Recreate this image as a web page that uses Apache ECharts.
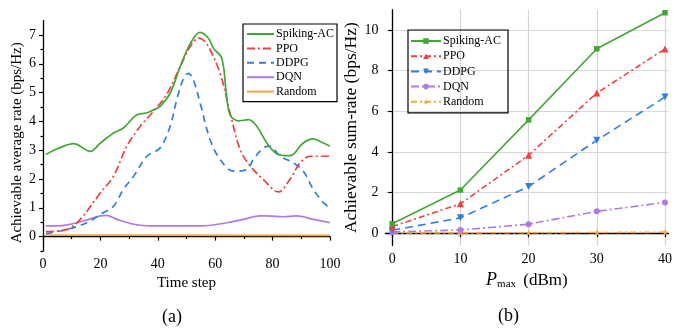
<!DOCTYPE html>
<html>
<head>
<meta charset="utf-8">
<script src="https://cdn.jsdelivr.net/npm/echarts@6/dist/echarts.min.js"></script>
<style>
  html, body { margin: 0; padding: 0; background: #fff; }
  #chart { width: 675px; height: 328px; }
</style>
</head>
<body>
<div id="chart"></div>
<script>
// (a) average rate over time steps
const spikingX = [1, 5, 10.7, 16.5, 20, 24.6, 28, 32.7, 36, 38.5, 40.8, 44.3, 47.8, 51.3, 54.7, 57.7, 59.4, 62.3, 64, 65.2, 68, 71.6, 74.5, 78, 81.4, 86, 90.7, 94.2, 97.7, 100]
const spikingY = [2.85, 3.05, 3.23, 2.96, 3.25, 3.6, 3.77, 4.23, 4.29, 4.4, 4.52, 4.98, 5.9, 6.7, 7.09, 6.88, 6.54, 6.19, 4.86, 4.23, 4.02, 4.06, 3.83, 3.25, 2.88, 2.81, 3.25, 3.39, 3.25, 3.14]
const ppoX = [1, 8.4, 13, 20, 24.6, 29.2, 33.9, 38.5, 43, 47.8, 51.3, 54.2, 57, 61.7, 65.2, 68.7, 72.2, 76.8, 82, 86, 89.6, 93, 100]
const ppoY = [0.17, 0.25, 0.6, 1.52, 2.1, 3.14, 3.83, 4.35, 4.92, 5.9, 6.6, 6.89, 6.7, 5.67, 4.29, 3.02, 2.45, 1.98, 1.55, 1.98, 2.56, 2.79, 2.79]
const ddpgX = [1, 8.4, 15.3, 20, 24.6, 28, 31.6, 36.2, 40.8, 44.3, 46.6, 49, 50.7, 52.4, 54.75, 58.2, 61.7, 66.4, 71, 73.3, 76.8, 79.1, 82.6, 87.2, 90.7, 94.2, 97.7, 100]
const ddpgY = [0.1, 0.25, 0.48, 0.77, 1.06, 1.64, 2.1, 2.79, 3.08, 3.83, 4.75, 5.5, 5.67, 5.44, 4.64, 3.37, 2.68, 2.27, 2.33, 2.68, 3.08, 3.14, 2.79, 2.56, 2.27, 1.64, 1.18, 1.0]
const dqnX = [1, 8, 14, 20, 22, 25.8, 31.6, 37.4, 54.8, 64, 69.8, 75.6, 78, 83.7, 88.4, 94.2, 100]
const dqnY = [0.37, 0.4, 0.54, 0.72, 0.74, 0.6, 0.43, 0.37, 0.37, 0.48, 0.6, 0.72, 0.72, 0.69, 0.72, 0.6, 0.48]
const randomX = [1, 100]
const randomY = [0.05, 0.04]

// (b) sum-rate vs Pmax
const pmax = [0, 10, 20, 30, 40]
const spikingSum = [0.47, 2.13, 5.58, 9.08, 10.85]
const ppoSum = [0.33, 1.45, 3.84, 6.9, 9.07]
const ddpgSum = [0.15, 0.76, 2.3, 4.58, 6.7]
const dqnSum = [0.07, 0.16, 0.45, 1.08, 1.52]
const randomSum = [0.02, 0.02, 0.03, 0.04, 0.05]

const names = ['Spiking-AC', 'PPO', 'DDPG', 'DQN', 'Random']
const colors = ['#43a636', '#ee4040', '#2f7de1', '#ad7ae6', '#f2a543']

const zip = (xs, ys) => xs.map((x, i) => [x, ys[i]])
const font = 'Liberation Serif'
const starPath = 'path://M50,0 L61,35 L98,35 L68,57 L79,91 L50,70 L21,91 L32,57 L2,35 L39,35 Z'

const myChart = echarts.init(document.getElementById('chart'), null, { renderer: 'canvas' })

const axisLine = { show: true, lineStyle: { color: '#000', width: 1.3 } }
const tickStyle = { color: '#000', width: 1.2 }

function leftLine(i, xs, ys, dash) {
  return {
    name: names[i],
    type: 'line',
    xAxisIndex: 0,
    yAxisIndex: 0,
    smooth: 0.35,
    symbol: 'none',
    data: zip(xs, ys),
    lineStyle: { color: colors[i], width: 1.7, type: dash || 'solid' },
    itemStyle: { color: colors[i] }
  }
}

function rightLine(i, ys, dash, symbol, size, rotate) {
  return {
    name: names[i] + ' ',
    type: 'line',
    xAxisIndex: 1,
    yAxisIndex: 2,
    symbol,
    symbolRotate: rotate || 0,
    symbolSize: size,
    data: zip(pmax, ys),
    lineStyle: { color: colors[i], width: 1.6, type: dash || 'solid' },
    itemStyle: { color: colors[i] }
  }
}

const option = {
  animation: false,
  textStyle: { fontFamily: font },
  grid: [
    { left: 43, top: 20.6, width: 287, height: 230.4 },
    { left: 385.4, top: 9.7, width: 287, height: 235.8 }
  ],
  legend: [
    {
      data: names,
      orient: 'vertical',
      left: 243,
      top: 24,
      padding: [4, 3, 4, 3],
      itemGap: 2.4,
      itemWidth: 27,
      itemHeight: 10,
      itemStyle: { opacity: 0 },
      borderColor: '#000',
      borderWidth: 1.2,
      textStyle: { fontFamily: font, fontSize: 12, color: '#000', padding: [0, 0, 0, -3] }
    },
    {
      data: names.map(n => n + ' '),
      orient: 'vertical',
      left: 408,
      top: 30,
      padding: [5, 4, 5, 2],
      itemGap: 3.2,
      itemWidth: 30,
      itemHeight: 7,
      borderColor: '#000',
      borderWidth: 1.2,
      textStyle: { fontFamily: font, fontSize: 12, color: '#000', padding: [0, 0, 0, -3] }
    }
  ],
  xAxis: [
    {
      gridIndex: 0,
      type: 'value',
      min: 0,
      max: 100,
      interval: 20,
      name: 'Time step',
      nameLocation: 'middle',
      nameGap: 23,
      nameTextStyle: { fontFamily: font, fontSize: 15, color: '#000' },
      axisLine,
      axisTick: { show: true, length: 4, lineStyle: tickStyle },
      minorTick: { show: true, splitNumber: 2, length: 2.5, lineStyle: tickStyle },
      axisLabel: { fontFamily: font, fontSize: 14, color: '#000', margin: 6 },
      splitLine: { show: false }
    },
    {
      gridIndex: 1,
      type: 'value',
      min: -1,
      max: 40.5,
      name: '{p|P}{s|max} (dBm)',
      nameLocation: 'middle',
      nameGap: 24,
      nameTextStyle: {
        fontFamily: font, fontSize: 17, color: '#000',
        rich: {
          p: { fontFamily: font, fontStyle: 'italic', fontSize: 18, color: '#000', verticalAlign: 'bottom' },
          s: { fontFamily: font, fontSize: 11, color: '#000', verticalAlign: 'bottom', padding: [0, 3, 0, 0] }
        }
      },
      axisLine,
      axisTick: { show: true, length: 4, lineStyle: tickStyle, customValues: pmax },
      axisLabel: { fontFamily: font, fontSize: 14, color: '#000', margin: 7, customValues: pmax },
      splitLine: { show: true, lineStyle: { color: '#d6d6d6', width: 1.2 } }
    }
  ],
  yAxis: [
    {
      gridIndex: 0,
      type: 'value',
      min: -0.5,
      max: 7.5,
      interval: 0.5,
      name: 'Achievable average rate (bps/Hz)',
      nameLocation: 'middle',
      nameGap: 18,
      nameTextStyle: { fontFamily: font, fontSize: 15, color: '#000', padding: [0, 14, 0, 0] },
      axisLine,
      axisTick: { show: true, length: 4, lineStyle: tickStyle, customValues: [0, 1, 2, 3, 4, 5, 6, 7] },
      axisLabel: { fontFamily: font, fontSize: 14, color: '#000', margin: 7, customValues: [0, 1, 2, 3, 4, 5, 6, 7] },
      splitLine: { show: false }
    },
    {
      // minor ticks of the left axis
      gridIndex: 0,
      type: 'value',
      min: -0.5,
      max: 7.5,
      interval: 0.5,
      position: 'left',
      axisLine: { show: false },
      axisTick: { show: true, length: 2.5, lineStyle: tickStyle, customValues: [-0.5, 0.5, 1.5, 2.5, 3.5, 4.5, 5.5, 6.5] },
      axisLabel: { show: false },
      splitLine: { show: false }
    },
    {
      gridIndex: 1,
      type: 'value',
      min: -0.6,
      max: 11,
      name: 'Achievable sum-rate (bps/Hz)',
      nameLocation: 'middle',
      nameGap: 22,
      nameTextStyle: { fontFamily: font, fontSize: 17.5, color: '#000' },
      axisLine,
      axisTick: { show: true, length: 4, lineStyle: tickStyle, customValues: [0, 2, 4, 6, 8, 10] },
      axisLabel: { fontFamily: font, fontSize: 14, color: '#000', margin: 7, customValues: [0, 2, 4, 6, 8, 10] },
      splitLine: { show: true, lineStyle: { color: '#d6d6d6', width: 1.2 } }
    }
  ],
  series: [
    leftLine(4, randomX, randomY),
    leftLine(3, dqnX, dqnY),
    leftLine(2, ddpgX, ddpgY, [7, 5]),
    leftLine(1, ppoX, ppoY, [8, 3, 2, 3]),
    leftLine(0, spikingX, spikingY),
    rightLine(4, randomSum, [6, 3, 2, 3], starPath, 7),
    rightLine(3, dqnSum, [8, 3, 2, 3], 'circle', 6),
    rightLine(2, ddpgSum, [8, 5], 'triangle', 7, 180),
    rightLine(1, ppoSum, [6, 3, 2, 3], 'triangle', 7),
    rightLine(0, spikingSum, 'solid', 'rect', 5.5)
  ],
  graphic: [
    { type: 'text', left: 162, top: 308, style: { text: '(a)', font: '18px "Liberation Serif"', fill: '#000' } },
    { type: 'text', left: 498, top: 307, style: { text: '(b)', font: '18px "Liberation Serif"', fill: '#000' } }
  ]
}

option && myChart.setOption(option)
</script>
</body>
</html>
